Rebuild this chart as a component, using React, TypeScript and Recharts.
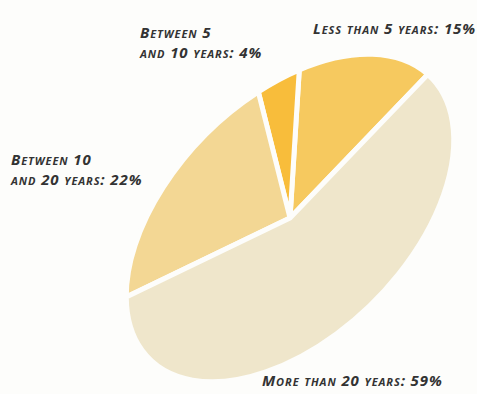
import { Cell, Pie, PieChart } from 'recharts';

const categories = ['Less than 5 years', 'Between 5 and 10 years', 'Between 10 and 20 years', 'More than 20 years'];
const shares = [15, 4, 22, 59];
const colors = ['#f6c95f', '#f8bd3b', '#f3d794', '#efe6cb'];

const data = categories.map((name, i) => ({ name, value: shares[i] }));

// the disc is drawn tilted: squash the circle, then turn it so the long axis points up-right
const TILT = -45;
const SQUASH = 0.595;
const RAD = Math.PI / 180;
const BG = '#fdfdfb';

const project = (cx: number, cy: number, r: number, angle: number) => {
  const lx = r * Math.cos(angle * RAD);
  const ly = -r * Math.sin(angle * RAD) * SQUASH;
  const t = TILT * RAD;
  return [cx + lx * Math.cos(t) - ly * Math.sin(t), cy + lx * Math.sin(t) + ly * Math.cos(t)];
};

const TiltedSector = (props: any) => {
  const { cx, cy, outerRadius, startAngle, endAngle, fill } = props;
  const [x0, y0] = project(cx, cy, outerRadius, startAngle);
  const [x1, y1] = project(cx, cy, outerRadius, endAngle);
  const large = Math.abs(endAngle - startAngle) > 180 ? 1 : 0;
  const d = `M${cx},${cy} L${x0},${y0} A${outerRadius},${outerRadius * SQUASH} ${TILT} ${large} 0 ${x1},${y1} Z`;
  return <path d={d} fill={fill} stroke={BG} strokeWidth={5} strokeLinejoin="round" />;
};

const labelStyle: React.CSSProperties = {
  position: 'absolute',
  fontFamily: '"Open Sans", sans-serif',
  fontWeight: 700,
  fontStyle: 'italic',
  fontVariant: 'small-caps',
  fontSize: 15,
  letterSpacing: 0.9,
  lineHeight: '20px',
  color: '#333',
  whiteSpace: 'nowrap',
};

export default function App() {
  return (
    <div style={{ position: 'relative', width: 477, height: 394, background: BG, overflow: 'hidden' }}>
      <style>{'body{margin:0;background:' + BG + '}'}</style>
      <PieChart width={477} height={394} margin={{ top: 0, right: 0, bottom: 0, left: 0 }}>
        <Pie
          data={data}
          dataKey="value"
          nameKey="name"
          cx={290}
          cy={218}
          outerRadius={199}
          startAngle={2}
          endAngle={362}
          shape={TiltedSector}
          isAnimationActive={false}
        >
          {data.map((d, i) => (
            <Cell key={d.name} fill={colors[i]} />
          ))}
        </Pie>
      </PieChart>
      <div style={{ ...labelStyle, left: 313, top: 18 }}>Less than 5 years: 15%</div>
      <div style={{ ...labelStyle, left: 140, top: 22 }}>
        Between 5
        <br />
        and 10 years: 4%
      </div>
      <div style={{ ...labelStyle, left: 11, top: 149 }}>
        Between 10
        <br />
        and 20 years: 22%
      </div>
      <div style={{ ...labelStyle, left: 262, top: 370 }}>More than 20 years: 59%</div>
    </div>
  );
}
